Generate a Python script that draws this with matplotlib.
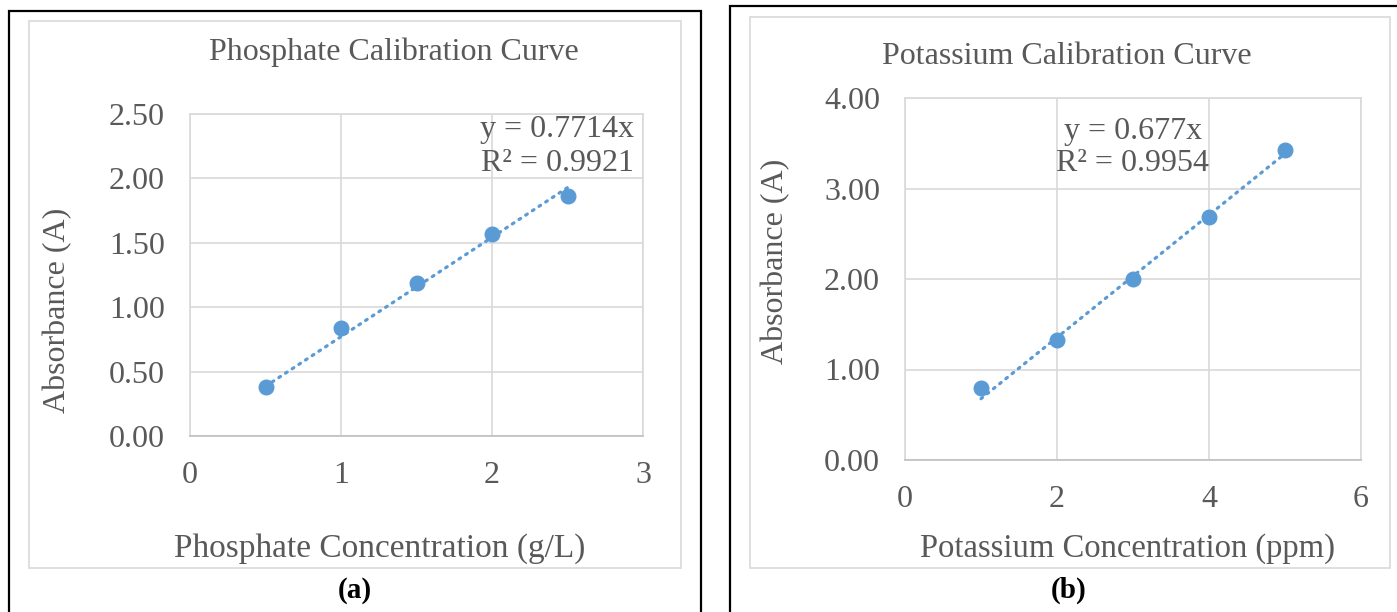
import matplotlib
matplotlib.use("Agg")
import matplotlib.pyplot as plt
from matplotlib.patches import Rectangle

# Data
phos_conc = [0.5, 1.0, 1.5, 2.0, 2.5]
phos_abs = [0.38, 0.84, 1.19, 1.57, 1.86]
phos_slope = 0.7714
phos_r2 = 0.9921

pot_conc = [1, 2, 3, 4, 5]
pot_abs = [0.80, 1.33, 2.00, 2.68, 3.42]
pot_slope = 0.677
pot_r2 = 0.9954

W, H = 1397, 612
BLUE = "#5B9BD5"
TXT = "#595959"
GRID = "#D9D9D9"

plt.rcParams['font.family'] = ['Liberation Serif', 'DejaVu Serif']

fig = plt.figure(figsize=(W / 100, H / 100), dpi=100)


def fx(px):
    return px / W


def fy(py):
    return 1 - py / H


def rect_px(x0, y0, x1, y1, color, lw):
    fig.patches.append(Rectangle((fx(x0), fy(y1)), fx(x1) - fx(x0), fy(y0) - fy(y1),
                                 transform=fig.transFigure, fill=False,
                                 edgecolor=color, linewidth=lw, zorder=0))


# outer frames and chart-area borders
rect_px(9, 11, 701, 625, "black", 1.6)
rect_px(730, 6, 1405, 625, "black", 1.6)
rect_px(29, 21, 681, 568, GRID, 1.2)
rect_px(750, 17, 1390, 568, GRID, 1.2)


def make_panel(box, x, y, slope, xlim, ylim, xticks, yticks):
    x0, y0, x1, y1 = box
    ax = fig.add_axes([fx(x0), fy(y1), fx(x1) - fx(x0), fy(y0) - fy(y1)])
    ax.set_xlim(*xlim)
    ax.set_ylim(*ylim)
    ax.set_xticks(xticks)
    ax.set_yticks(yticks)
    ax.set_xticklabels(["%d" % v for v in xticks])
    ax.set_yticklabels(["%.2f" % v for v in yticks])
    ax.grid(True, color=GRID, linewidth=1.2)
    ax.set_axisbelow(True)
    for s in ax.spines.values():
        s.set_color(GRID)
        s.set_linewidth(1.2)
    ax.spines['bottom'].set_color("#BFBFBF")
    ax.tick_params(length=0, labelsize=23, labelcolor=TXT)
    ax.tick_params(axis='y', pad=18)
    ax.tick_params(axis='x', pad=18)
    # linear trendline through origin, drawn over the data range
    xs = [min(x), max(x)]
    ax.plot(xs, [slope * v for v in xs], linestyle=(0, (0.6, 1.9)), color=BLUE,
            linewidth=2.3, dash_capstyle='round', zorder=2)
    ax.plot(x, y, 'o', color=BLUE, markersize=10.5, zorder=3)
    return ax


make_panel((190, 114, 643, 436), phos_conc, phos_abs, phos_slope,
           (0, 3), (0, 2.5), [0, 1, 2, 3], [0, 0.5, 1.0, 1.5, 2.0, 2.5])
make_panel((905, 98, 1361, 460), pot_conc, pot_abs, pot_slope,
           (0, 6), (0, 4), [0, 2, 4, 6], [0, 1, 2, 3, 4])


def txt(px, py, s, size, **kw):
    kw.setdefault("color", TXT)
    fig.text(fx(px), fy(py), s, fontsize=size, ha=kw.pop("ha", "center"),
             va=kw.pop("va", "center"), **kw)


txt(394, 52, "Phosphate Calibration Curve", 23)
txt(1067, 57, "Potassium Calibration Curve", 23)
txt(58, 310, "Absorbance (A)", 23, rotation=90)
txt(776, 261, "Absorbance (A)", 23, rotation=90)
txt(380, 549, "Phosphate Concentration (g/L)", 24)
txt(1127, 549, "Potassium Concentration (ppm)", 23.5)

txt(634, 129, "y = %.4fx" % phos_slope, 23, ha="right")
txt(634, 164, "R² = %.4f" % phos_r2, 23, ha="right")
txt(1133, 131, "y = %.3fx" % pot_slope, 23)
txt(1133, 164, "R² = %.4f" % pot_r2, 23)

txt(355, 590, "(a)", 21, color="black", fontweight="bold")
txt(1069, 590, "(b)", 21, color="black", fontweight="bold")

fig.savefig("out.png", dpi=100)
